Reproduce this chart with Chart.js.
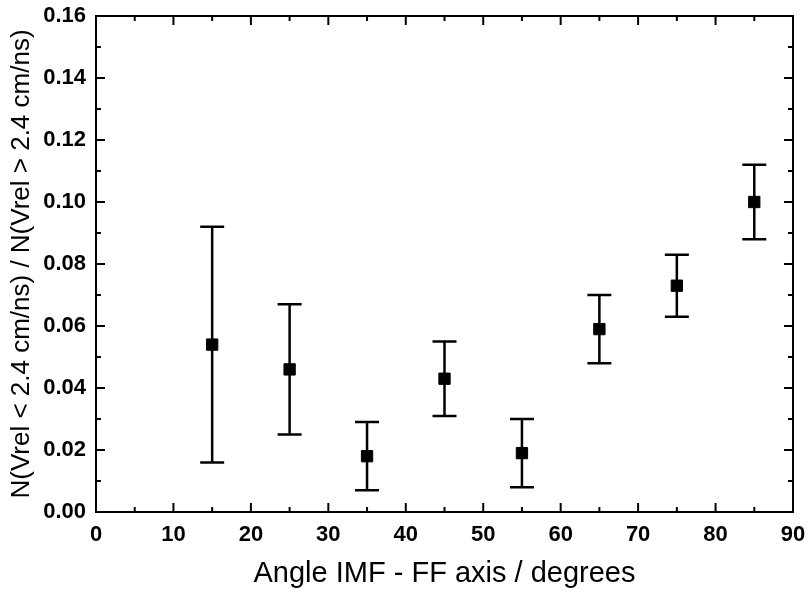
<!DOCTYPE html>
<html>
<head>
<meta charset="utf-8">
<script src="https://cdn.jsdelivr.net/npm/chart.js@4.4.0/dist/chart.umd.min.js"></script>
<style>
  html, body { margin: 0; padding: 0; background: #fff; }
  #wrap { width: 808px; height: 595px; }
</style>
</head>
<body>
<div id="wrap"><canvas id="plot" width="808" height="595"></canvas></div>
<script>
'use strict';

// Data
const angles = [15, 25, 35, 45, 55, 65, 75, 85];
const ratios = [0.054, 0.046, 0.018, 0.043, 0.019, 0.059, 0.073, 0.100];
const errLow = [0.016, 0.025, 0.007, 0.031, 0.008, 0.048, 0.063, 0.088];
const errHigh = [0.092, 0.067, 0.029, 0.055, 0.030, 0.070, 0.083, 0.112];

const xTicks = [0, 10, 20, 30, 40, 50, 60, 70, 80, 90];
const yTicks = [0.00, 0.02, 0.04, 0.06, 0.08, 0.10, 0.12, 0.14, 0.16];

const FONT = "'Liberation Sans', Arial, Helvetica, sans-serif";

// Error bars, frame and inward ticks
const decorations = {
    id: 'decorations',
    afterDatasetsDraw(chart) {
        const ctx = chart.ctx;
        const xs = chart.scales.x;
        const ys = chart.scales.y;
        const area = chart.chartArea;
        ctx.save();
        ctx.strokeStyle = '#000';
        ctx.lineWidth = 2.5;
        ctx.lineCap = 'butt';

        // error bars
        for (let i = 0; i < angles.length; i++) {
            const px = xs.getPixelForValue(angles[i]);
            const lo = ys.getPixelForValue(errLow[i]);
            const hi = ys.getPixelForValue(errHigh[i]);
            ctx.beginPath();
            ctx.moveTo(px, lo);
            ctx.lineTo(px, hi);
            ctx.moveTo(px - 12, lo);
            ctx.lineTo(px + 12, lo);
            ctx.moveTo(px - 12, hi);
            ctx.lineTo(px + 12, hi);
            ctx.stroke();
        }

        // frame
        ctx.lineWidth = 2;
        ctx.strokeRect(area.left, area.top, area.right - area.left, area.bottom - area.top);

        // inward ticks
        ctx.beginPath();
        for (let v = 0; v <= 90; v += 5) {
            const px = xs.getPixelForValue(v);
            const len = v % 10 === 0 ? 9 : 5;
            ctx.moveTo(px, area.bottom);
            ctx.lineTo(px, area.bottom - len);
            ctx.moveTo(px, area.top);
            ctx.lineTo(px, area.top + len);
        }
        for (let k = 0; k <= 16; k++) {
            const py = ys.getPixelForValue(k * 0.01);
            const len = k % 2 === 0 ? 9 : 5;
            ctx.moveTo(area.left, py);
            ctx.lineTo(area.left + len, py);
            ctx.moveTo(area.right, py);
            ctx.lineTo(area.right - len, py);
        }
        ctx.stroke();
        ctx.restore();
    }
};

new Chart(document.getElementById('plot'), {
    type: 'scatter',
    data: {
        datasets: [{
            data: angles.map((a, i) => ({ x: a, y: ratios[i] })),
            pointStyle: 'rect',
            pointRadius: 8,
            pointBackgroundColor: '#000',
            pointBorderColor: '#000',
            pointBorderWidth: 1
        }]
    },
    options: {
        responsive: false,
        animation: false,
        layout: { padding: { top: 16, right: 15, left: 0, bottom: 0 } },
        plugins: {
            legend: { display: false },
            tooltip: { enabled: false }
        },
        scales: {
            x: {
                type: 'linear',
                min: 0,
                max: 90,
                afterBuildTicks(scale) {
                    scale.ticks = xTicks.map(v => ({ value: v }));
                },
                afterFit(scale) {
                    scale.height = 83;
                    scale.paddingLeft = 0;
                    scale.paddingRight = 0;
                },
                grid: { display: false, drawTicks: false },
                border: { display: false },
                ticks: {
                    color: '#000',
                    padding: 10,
                    maxRotation: 0,
                    font: { family: FONT, size: 22, weight: 'bold' },
                    callback: v => String(v)
                },
                title: {
                    display: true,
                    text: 'Angle IMF - FF axis / degrees',
                    color: '#000',
                    font: { family: FONT, size: 29 },
                    padding: { top: 14 }
                }
            },
            y: {
                type: 'linear',
                min: 0,
                max: 0.16,
                afterBuildTicks(scale) {
                    scale.ticks = yTicks.map(v => ({ value: v }));
                },
                afterFit(scale) {
                    scale.width = 96;
                    scale.paddingTop = 0;
                    scale.paddingBottom = 0;
                },
                grid: { display: false, drawTicks: false },
                border: { display: false },
                ticks: {
                    color: '#000',
                    padding: 10,
                    font: { family: FONT, size: 22, weight: 'bold' },
                    callback: v => Number(v).toFixed(2)
                },
                title: {
                    display: true,
                    text: 'N(Vrel < 2.4 cm/ns) / N(Vrel > 2.4 cm/ns)',
                    color: '#000',
                    font: { family: FONT, size: 26 },
                    padding: { top: 6, bottom: 0 }
                }
            }
        }
    },
    plugins: [decorations]
});
</script>
</body>
</html>
